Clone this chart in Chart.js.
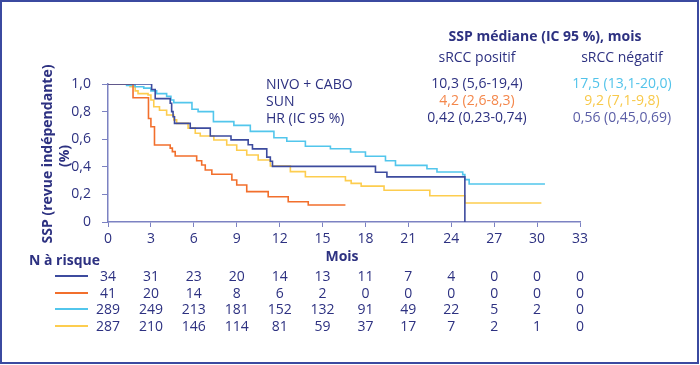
<!DOCTYPE html>
<html>
<head>
<meta charset="utf-8">
<script src="https://cdn.jsdelivr.net/npm/chart.js@4/dist/chart.umd.min.js"></script>
<style>
  body { margin: 0; background: #fff; }
  #wrap { width: 700px; height: 365px; }
</style>
</head>
<body>
<div id="wrap"><canvas id="km"></canvas></div>
<script>
// x ticks / risk table columns (months)
const months = [0, 3, 6, 9, 12, 15, 18, 21, 24, 27, 30, 33];

// NIVO + CABO, sRCC positif
const nivoPosT = [0, 3.05, 3.3, 4.35, 4.45, 4.55, 4.65, 5.75, 7.15, 8.6, 9.8, 10.1, 11.1, 11.35, 11.5, 18.7, 19.5, 24.95];
const nivoPosS = [1, 0.96, 0.894, 0.86, 0.80, 0.763, 0.715, 0.68, 0.623, 0.595, 0.56, 0.53, 0.47, 0.44, 0.403, 0.36, 0.327, 0];
// SUN, sRCC positif
const sunPosT = [0, 1.75, 2.83, 3.0, 3.25, 4.35, 4.5, 4.7, 6.2, 6.55, 6.8, 7.26, 8.66, 9.0, 9.7, 11.2, 12.6, 14.0, 16.6];
const sunPosS = [1, 0.90, 0.75, 0.69, 0.558, 0.535, 0.51, 0.478, 0.444, 0.413, 0.377, 0.346, 0.304, 0.268, 0.22, 0.183, 0.147, 0.123, 0.123];
// NIVO + CABO, sRCC négatif
const nivoNegT = [0, 1.3, 1.9, 2.5, 3.0, 3.4, 4.1, 4.4, 4.6, 5.87, 6.3, 7.37, 8.8, 9.95, 11.6, 12.5, 13.8, 15.55, 16.96, 18.0, 19.4, 20.1, 22.3, 23.0, 24.8, 24.95, 25.25, 30.55];
const nivoNegS = [1, 0.99, 0.98, 0.97, 0.95, 0.93, 0.91, 0.884, 0.865, 0.817, 0.80, 0.727, 0.70, 0.657, 0.61, 0.585, 0.549, 0.531, 0.507, 0.476, 0.444, 0.41, 0.386, 0.362, 0.343, 0.307, 0.275, 0.275];
// SUN, sRCC négatif
const sunNegT = [0, 1.54, 1.9, 2.1, 2.8, 3.0, 3.2, 3.6, 4.1, 4.6, 4.8, 5.6, 6.1, 6.45, 7.4, 8.3, 9.0, 9.7, 10.5, 11.35, 12.75, 13.8, 16.6, 17.0, 17.7, 19.3, 22.5, 24.95, 30.3];
const sunNegS = [1, 0.98, 0.95, 0.93, 0.92, 0.884, 0.835, 0.81, 0.775, 0.74, 0.715, 0.68, 0.643, 0.623, 0.594, 0.558, 0.52, 0.486, 0.449, 0.406, 0.365, 0.328, 0.30, 0.28, 0.26, 0.23, 0.19, 0.138, 0.138];

// N à risque
const riskNivoPos = [34, 31, 23, 20, 14, 13, 11, 7, 4, 0, 0, 0];
const riskSunPos = [41, 20, 14, 8, 6, 2, 0, 0, 0, 0, 0, 0];
const riskNivoNeg = [289, 249, 213, 181, 152, 132, 91, 49, 22, 5, 2, 0];
const riskSunNeg = [287, 210, 146, 114, 81, 59, 37, 17, 7, 2, 1, 0];

const NAVY = "#3d4b9e";
const ORANGE = "#f26f2c";
const CYAN = "#52c6ec";
const YELLOW = "#fdcd4f";
const TEXT = "#2d3181";
const AXIS = "#7c82c2";
const FONT = "'Open Sans', 'Noto Sans', sans-serif";

const pts = (t, s) => t.map((v, i) => ({ x: v, y: s[i] }));

const series = (label, t, s, color) => ({
  label,
  data: pts(t, s),
  borderColor: color,
  borderWidth: 1.6,
  pointRadius: 0,
  stepped: true,
  showLine: true,
  fill: false,
});

const overlay = {
  id: "overlay",
  afterDraw(chart) {
    const ctx = chart.ctx;
    const x = chart.scales.x;
    ctx.save();

    // frame
    ctx.strokeStyle = "#3b4aa0";
    ctx.lineWidth = 2;
    ctx.strokeRect(1, 1, 697, 362);

    ctx.fillStyle = TEXT;
    ctx.textBaseline = "middle";

    // y title
    ctx.save();
    ctx.translate(48, 154);
    ctx.rotate(-Math.PI / 2);
    ctx.textAlign = "center";
    ctx.font = "bold 14px " + FONT;
    ctx.fillText("SSP (revue indépendante)", 0, 0);
    ctx.restore();
    ctx.save();
    ctx.translate(65, 156);
    ctx.rotate(-Math.PI / 2);
    ctx.textAlign = "center";
    ctx.font = "bold 14px " + FONT;
    ctx.fillText("(%)", 0, 0);
    ctx.restore();

    // x title
    ctx.textAlign = "center";
    ctx.font = "bold 14px " + FONT;
    ctx.fillText("Mois", 342, 257);

    // risk table
    ctx.textAlign = "left";
    ctx.fillText("N à risque", 29, 261);
    const rows = [
      [riskNivoPos, NAVY, 277],
      [riskSunPos, ORANGE, 294],
      [riskNivoNeg, CYAN, 310],
      [riskSunNeg, YELLOW, 327],
    ];
    ctx.font = "14px " + FONT;
    ctx.textAlign = "center";
    rows.forEach(([vals, color, y]) => {
      ctx.strokeStyle = color;
      ctx.lineWidth = 2;
      ctx.beginPath();
      ctx.moveTo(55, y - 1);
      ctx.lineTo(88, y - 1);
      ctx.stroke();
      ctx.fillStyle = TEXT;
      vals.forEach((v, i) => ctx.fillText(String(v), x.getPixelForValue(months[i]), y));
    });

    // median table
    ctx.fillStyle = TEXT;
    ctx.font = "bold 14px " + FONT;
    ctx.fillText("SSP médiane (IC 95 %), mois", 545, 37);
    ctx.font = "14px " + FONT;
    ctx.fillText("sRCC positif", 477, 58);
    ctx.fillText("sRCC négatif", 622, 58);
    ctx.textAlign = "left";
    ctx.fillText("NIVO + CABO", 266, 85);
    ctx.fillText("SUN", 266, 102);
    ctx.fillText("HR (IC 95 %)", 266, 119);
    ctx.textAlign = "center";
    ctx.fillText("10,3 (5,6-19,4)", 477, 84);
    ctx.fillStyle = "#f4874b";
    ctx.fillText("4,2 (2,6-8,3)", 477, 101);
    ctx.fillStyle = TEXT;
    ctx.fillText("0,42 (0,23-0,74)", 477, 118);
    ctx.fillStyle = "#52c3ea";
    ctx.fillText("17,5 (13,1-20,0)", 622, 84);
    ctx.fillStyle = "#f8c94a";
    ctx.fillText("9,2 (7,1-9,8)", 622, 101);
    ctx.fillStyle = "#5b5ea6";
    ctx.fillText("0,56 (0,45,0,69)", 622, 118);

    ctx.restore();
  },
};

new Chart(document.getElementById("km"), {
  type: "scatter",
  data: {
    datasets: [
      series("NIVO + CABO sRCC positif", nivoPosT, nivoPosS, NAVY),
      series("SUN sRCC positif", sunPosT, sunPosS, ORANGE),
      series("NIVO + CABO sRCC négatif", nivoNegT, nivoNegS, CYAN),
      series("SUN sRCC négatif", sunNegT, sunNegS, YELLOW),
    ],
  },
  options: {
    responsive: true,
    maintainAspectRatio: false,
    animation: false,
    layout: { padding: { left: 0, top: 84, right: 120, bottom: 113 } },
    plugins: { legend: { display: false }, tooltip: { enabled: false } },
    scales: {
      x: {
        type: "linear",
        min: 0,
        max: 33,
        afterFit: (s) => { s.height = 30; },
        afterBuildTicks: (s) => { s.ticks = months.map((v) => ({ value: v })); },
        grid: { drawOnChartArea: false, drawTicks: true, tickLength: 5, color: AXIS },
        border: { color: AXIS, width: 1.5 },
        ticks: { color: TEXT, font: { family: FONT, size: 14 }, padding: 4, maxRotation: 0 },
      },
      y: {
        min: 0,
        max: 1,
        afterFit: (s) => { s.width = 108; },
        grid: { drawOnChartArea: false, drawTicks: true, tickLength: 6, color: AXIS },
        border: { color: AXIS, width: 1.5 },
        ticks: {
          stepSize: 0.2,
          color: TEXT,
          font: { family: FONT, size: 14 },
          padding: 11,
          callback: (v) => (v === 0 ? "0" : v.toFixed(1).replace(".", ",")),
        },
      },
    },
  },
  plugins: [overlay],
});
</script>
</body>
</html>
